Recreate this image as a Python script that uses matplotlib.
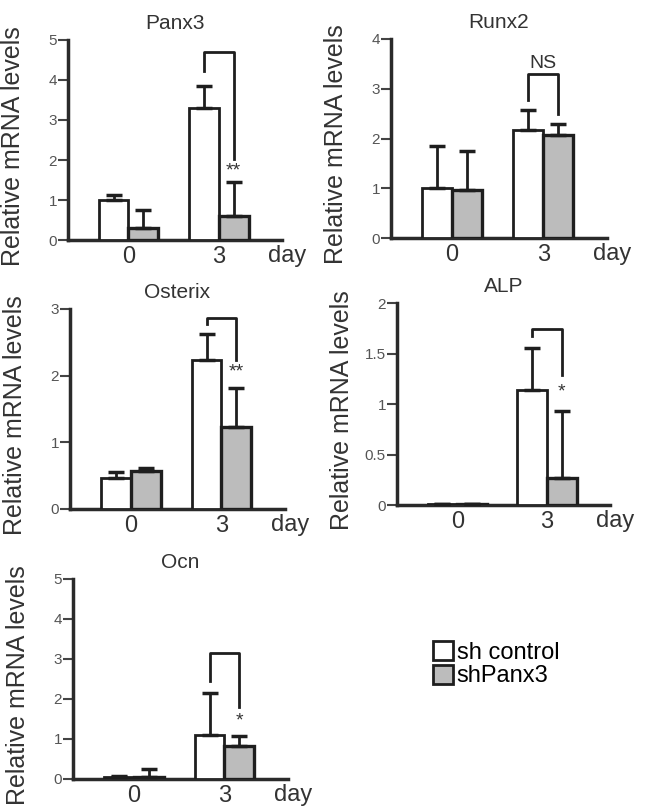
import numpy as np
import matplotlib.pyplot as plt
from matplotlib.patches import Patch

plt.rcParams['font.family'] = ['Liberation Sans', 'DejaVu Sans']

# data (order of genes below)
genes = ['Panx3', 'Runx2', 'Osterix', 'ALP', 'Ocn']
days = ['0', '3']

ctrl_mean = [[1.0, 3.3], [1.0, 2.17], [0.47, 2.23], [0.01, 1.14], [0.05, 1.09]]
ctrl_err = [[0.12, 0.55], [0.85, 0.41], [0.09, 0.39], [0.0, 0.41], [0.02, 1.06]]
sh_mean = [[0.31, 0.6], [0.96, 2.07], [0.57, 1.23], [0.005, 0.27], [0.04, 0.83]]
sh_err = [[0.43, 0.84], [0.78, 0.23], [0.04, 0.58], [0.0, 0.66], [0.2, 0.25]]

y_max = [5, 4, 3, 2, 5]
y_step = [1, 1, 1, 0.5, 1]
y_ticklabels = [None, None, None, ['0', '0.5', '1', '1.5', '2'], None]

# significance brackets on day 3: top, left leg end, right leg end
bracket_top = [4.7, 3.3, 2.87, 1.74, 3.15]
bracket_left = [4.22, 2.77, 2.78, 1.67, 2.45]
bracket_right = [2.02, 2.5, 2.23, 1.29, 1.8]
sig_text = ['**', 'NS', '**', '*', '*']
sig_y = [1.72, 3.5, 2.05, 1.12, 1.44]

W, H = 650, 809
fig = plt.figure(figsize=(W / 100, H / 100), dpi=100)

# axes boxes in pixels: left, top, right, bottom
panel_px = [(68, 40, 282, 240), (391, 39, 607, 238), (70, 309, 285, 509),
            (397, 303, 610, 505), (73, 579, 288, 779)]

dark = '#1e1e1e'
grey = '#bcbcbc'
x = np.arange(len(days))
bw = 0.33

for i, gene in enumerate(genes):
    l, t, r, b = panel_px[i]
    ax = fig.add_axes([l / W, 1 - b / H, (r - l) / W, (b - t) / H])

    ax.bar(x - bw / 2, ctrl_mean[i], bw, color='white', edgecolor=dark, lw=2, zorder=3)
    ax.bar(x + bw / 2, sh_mean[i], bw, color=grey, edgecolor=dark, lw=2.4, zorder=3)
    ax.errorbar(x - bw / 2, ctrl_mean[i], yerr=[np.zeros(len(days)), ctrl_err[i]],
                fmt='none', ecolor=dark, elinewidth=2, capsize=6, capthick=2.5, zorder=4)
    ax.errorbar(x + bw / 2, sh_mean[i], yerr=[np.zeros(len(days)), sh_err[i]],
                fmt='none', ecolor=dark, elinewidth=2, capsize=6, capthick=2.5, zorder=4)

    # bracket between the two day-3 bars
    xl, xr = x[1] - bw / 2, x[1] + bw / 2
    ax.plot([xl, xl, xr, xr], [bracket_left[i], bracket_top[i], bracket_top[i], bracket_right[i]],
            color=dark, lw=2, clip_on=False)
    if sig_text[i] == 'NS':
        ax.text((xl + xr) / 2, sig_y[i], sig_text[i], ha='center', va='center', fontsize=14, color='#333')
    else:
        ax.text(xr, sig_y[i], sig_text[i], ha='center', va='center', fontsize=14, color='#333')

    ax.set_xlim(-0.67, 1.70)
    ax.set_ylim(0, y_max[i])
    yt = np.arange(0, y_max[i] + y_step[i] / 2, y_step[i])
    ax.set_yticks(yt)
    if y_ticklabels[i] is not None:
        ax.set_yticklabels(y_ticklabels[i])
    else:
        ax.set_yticklabels([str(int(v)) for v in yt])
    ax.set_xticks(x)
    ax.set_xticklabels(days)

    for s in ['top', 'right']:
        ax.spines[s].set_visible(False)
    for s in ['left', 'bottom']:
        ax.spines[s].set_linewidth(2.5)
        ax.spines[s].set_color('#2a2a2a')

    ax.tick_params(axis='y', direction='out', length=7, width=1.5, color='#444',
                   labelsize=11, labelcolor='#555', pad=1)
    ax.tick_params(axis='x', length=0, labelsize=17, labelcolor='#333', pad=4)
    ax.annotate('day', xy=(1.025, 0), xycoords='axes fraction', xytext=(0, -3.5),
                textcoords='offset points', ha='center', va='top', fontsize=17, color='#333')

    ax.set_title(gene, fontsize=15, pad=8, color='#333')
    ax.set_ylabel('Relative mRNA levels', fontsize=18, color='#333')
    ax.yaxis.set_label_coords(-0.2, 0.47)

handles = [Patch(facecolor='white', edgecolor=dark, lw=2, label='sh control'),
           Patch(facecolor=grey, edgecolor=dark, lw=2, label='shPanx3')]
fig.legend(handles=handles, loc='upper left', bbox_to_anchor=(433 / W, 1 - 641 / H),
           frameon=False, fontsize=17, handlelength=0.85, handleheight=0.85,
           handletextpad=0.15, labelspacing=0.05, borderpad=0, borderaxespad=0)

fig.savefig('out.png', dpi=100)
